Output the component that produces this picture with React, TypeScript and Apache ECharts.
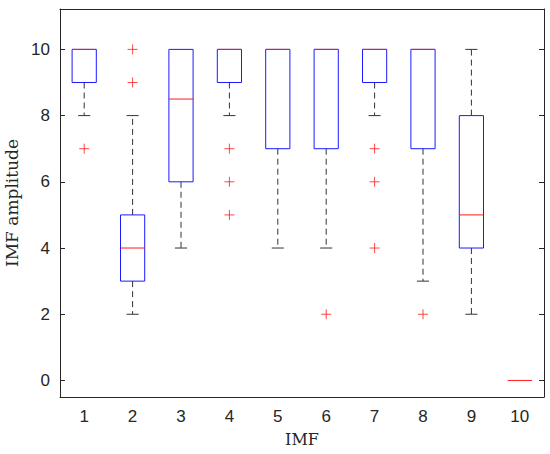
import React, { useEffect, useRef } from "react";
import * as echarts from "echarts";

const categories = ["1", "2", "3", "4", "5", "6", "7", "8", "9", "10"];
const whiskerLow = [8, 2, 4, 8, 4, 4, 8, 3, 2, 0];
const quartile1 = [9, 3, 6, 9, 7, 7, 9, 7, 4, 0];
const medians = [10, 4, 8.5, 10, 10, 10, 10, 10, 5, 0];
const quartile3 = [10, 5, 10, 10, 10, 10, 10, 10, 8, 0];
const whiskerHigh = [10, 8, 10, 10, 10, 10, 10, 10, 10, 0];
const outliers: number[][] = [[7], [9, 10], [], [7, 6, 5], [], [2], [7, 6, 4], [2], [], []];
const yTicks = [0, 2, 4, 6, 8, 10];

const AXIS = "#262626";
const BOX = "#1a1aff";
const MED = "#ff1a1a";
const WHISK = "#333333";

export default function App() {
  const ref = useRef<HTMLDivElement>(null);
  useEffect(() => {
    document.body.style.margin = "0";
    const chart = echarts.init(ref.current!, null, { renderer: "svg" });
    const boxData = categories.map((_, i) => [i, whiskerLow[i], quartile1[i], medians[i], quartile3[i], whiskerHigh[i]]);
    const outlierData: number[][] = [];
    outliers.forEach((arr, i) => arr.forEach((v) => outlierData.push([i, v])));

    const renderItem = (params: any, api: any) => {
      const idx = api.value(0);
      const low = api.value(1);
      const q1 = api.value(2);
      const med = api.value(3);
      const q3 = api.value(4);
      const high = api.value(5);
      const bw = api.size([1, 0])[0];
      const half = bw * 0.25;
      const capHalf = bw * 0.125;
      const c = (v: number) => api.coord([idx, v]);
      const children: any[] = [];
      const pLow = c(low), pQ1 = c(q1), pMed = c(med), pQ3 = c(q3), pHigh = c(high);
      const x = pMed[0];
      if (low < q1) {
        children.push({ type: "line", shape: { x1: x, y1: pQ1[1], x2: x, y2: pLow[1] }, style: { stroke: WHISK, lineWidth: 1, lineDash: [6, 4] } });
        children.push({ type: "line", shape: { x1: x - capHalf, y1: pLow[1], x2: x + capHalf, y2: pLow[1] }, style: { stroke: WHISK, lineWidth: 1 } });
      }
      if (high > q3) {
        children.push({ type: "line", shape: { x1: x, y1: pQ3[1], x2: x, y2: pHigh[1] }, style: { stroke: WHISK, lineWidth: 1, lineDash: [6, 4] } });
        children.push({ type: "line", shape: { x1: x - capHalf, y1: pHigh[1], x2: x + capHalf, y2: pHigh[1] }, style: { stroke: WHISK, lineWidth: 1 } });
      }
      if (q3 > q1) {
        children.push({ type: "rect", shape: { x: x - half, y: pQ3[1], width: half * 2, height: pQ1[1] - pQ3[1] }, style: { fill: "none", stroke: BOX, lineWidth: 1 } });
      }
      children.push({ type: "line", shape: { x1: x - half, y1: pMed[1], x2: x + half, y2: pMed[1] }, style: { stroke: MED, lineWidth: 1 } });
      return { type: "group", children };
    };

    const yAxisBase = {
      type: "value" as const,
      min: -0.5,
      max: 11.22,
      splitLine: { show: false },
      axisLine: { show: true, onZero: false, lineStyle: { color: AXIS, width: 1 } },
      axisTick: { show: true, inside: true, length: 5, customValues: yTicks, lineStyle: { color: AXIS } },
    };

    chart.setOption({
      animation: false,
      grid: { left: 60, right: 6, top: 9, bottom: 57, outerBoundsMode: "none" },
      xAxis: [
        {
          type: "category",
          data: categories,
          position: "bottom",
          name: "IMF",
          nameLocation: "middle",
          nameGap: 34,
          nameTextStyle: { fontFamily: "DejaVu Serif", fontSize: 16, color: AXIS },
          axisLine: { show: true, onZero: false, lineStyle: { color: AXIS, width: 1 } },
          axisTick: { inside: true, alignWithLabel: true, length: 5, lineStyle: { color: AXIS } },
          axisLabel: { fontFamily: "Liberation Sans", fontSize: 17, color: AXIS, margin: 11 },
          splitLine: { show: false },
        },
        {
          type: "category",
          data: categories,
          position: "top",
          axisLine: { show: true, onZero: false, lineStyle: { color: AXIS, width: 1 } },
          axisTick: { inside: true, alignWithLabel: true, length: 5, lineStyle: { color: AXIS } },
          axisLabel: { show: false },
          splitLine: { show: false },
        },
      ],
      yAxis: [
        {
          ...yAxisBase,
          position: "left",
          name: "IMF amplitude",
          nameLocation: "middle",
          nameGap: 35,
          nameTextStyle: { fontFamily: "DejaVu Serif", fontSize: 17, color: AXIS },
          axisLabel: { customValues: yTicks, fontFamily: "Liberation Sans", fontSize: 17, color: AXIS, margin: 10 },
        },
        {
          ...yAxisBase,
          position: "right",
          axisLabel: { show: false },
        },
      ],
      series: [
        {
          type: "custom",
          xAxisIndex: 0,
          yAxisIndex: 0,
          renderItem,
          data: boxData,
          encode: { x: 0, y: [1, 2, 3, 4, 5] },
          z: 2,
        },
        {
          type: "scatter",
          xAxisIndex: 0,
          yAxisIndex: 0,
          data: outlierData,
          symbol: "path://M5,0 L5,10 M0,5 L10,5",
          symbolSize: 10,
          itemStyle: { color: "none", borderColor: MED, borderWidth: 1 },
          z: 3,
        },
      ],
    });
    return () => chart.dispose();
  }, []);
  return <div ref={ref} style={{ width: 550, height: 454 }} />;
}
